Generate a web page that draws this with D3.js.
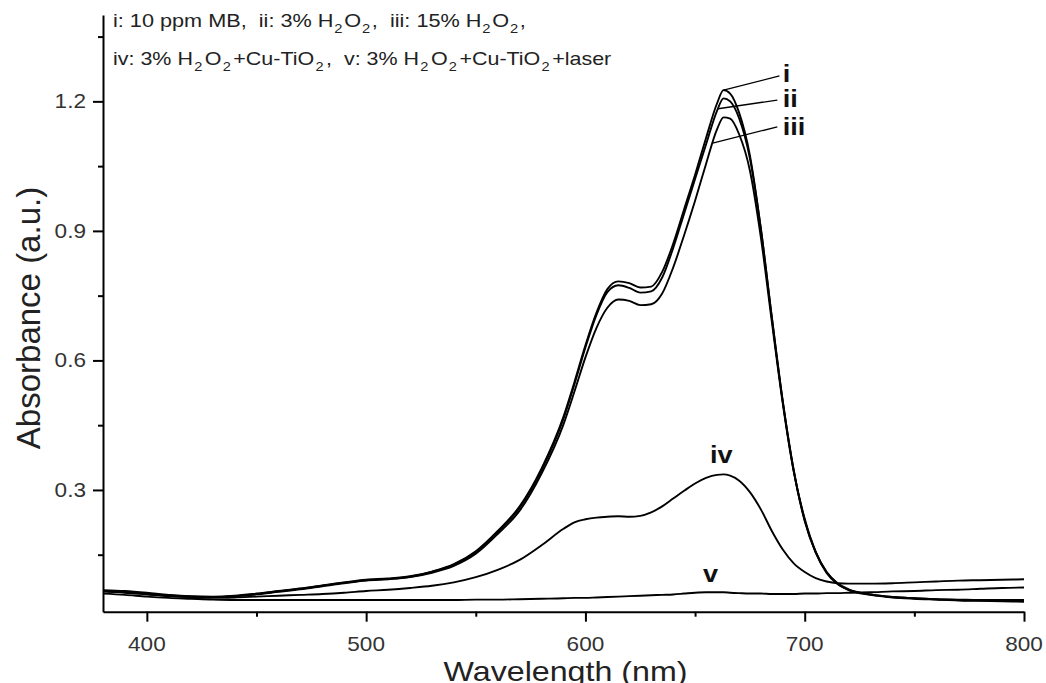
<!DOCTYPE html>
<html>
<head>
<meta charset="utf-8">
<script src="https://cdn.jsdelivr.net/npm/d3@7"></script>
<style>
  html, body { margin: 0; padding: 0; background: #fff; }
  svg { display: block; }
  text { font-family: "Liberation Sans", Arial, sans-serif; }
</style>
</head>
<body>
<svg id="chart" width="1046" height="683"></svg>
<script>
// UV-vis absorption spectra of methylene blue under different treatments
const wavelength = [380, 390, 400, 410, 420, 430, 440, 450, 460, 470, 480, 490, 500, 510, 520, 530, 540, 550, 560, 570,
  580, 590, 595, 600, 605, 610, 615, 620, 625, 630, 635, 640, 645, 650, 655, 660, 663, 666, 670, 675,
  680, 685, 690, 695, 700, 705, 710, 715, 720, 730, 740, 750, 760, 770, 780, 790, 800];

// i: 10 ppm MB
const absI = [0.068, 0.066, 0.062, 0.057, 0.054, 0.053, 0.055, 0.060, 0.066, 0.072, 0.079, 0.086, 0.092, 0.095, 0.100, 0.111, 0.128, 0.158, 0.205, 0.262,
  0.350, 0.470, 0.550, 0.635, 0.710, 0.765, 0.783, 0.779, 0.769, 0.771, 0.805, 0.870, 0.950, 1.030, 1.115, 1.195, 1.226, 1.218, 1.175, 1.075,
  0.905, 0.700, 0.505, 0.345, 0.228, 0.155, 0.108, 0.082, 0.068, 0.057, 0.051, 0.048, 0.046, 0.044, 0.043, 0.042, 0.041];
// ii: 3% H2O2
const absII = [0.066, 0.064, 0.060, 0.056, 0.053, 0.052, 0.054, 0.059, 0.065, 0.071, 0.078, 0.085, 0.091, 0.094, 0.099, 0.110, 0.127, 0.156, 0.203, 0.259,
  0.346, 0.465, 0.545, 0.630, 0.705, 0.758, 0.774, 0.768, 0.757, 0.760, 0.792, 0.860, 0.940, 1.020, 1.100, 1.178, 1.207, 1.200, 1.162, 1.068,
  0.905, 0.700, 0.505, 0.345, 0.230, 0.156, 0.109, 0.083, 0.069, 0.058, 0.052, 0.049, 0.047, 0.045, 0.044, 0.043, 0.043];
// iii: 15% H2O2
const absIII = [0.065, 0.063, 0.059, 0.055, 0.053, 0.052, 0.054, 0.058, 0.064, 0.070, 0.077, 0.084, 0.090, 0.093, 0.098, 0.108, 0.124, 0.152, 0.198, 0.252,
  0.338, 0.452, 0.528, 0.607, 0.675, 0.722, 0.741, 0.738, 0.728, 0.730, 0.755, 0.815, 0.890, 0.970, 1.055, 1.135, 1.163, 1.160, 1.125, 1.040,
  0.885, 0.690, 0.500, 0.342, 0.233, 0.157, 0.110, 0.084, 0.070, 0.058, 0.052, 0.049, 0.047, 0.046, 0.045, 0.045, 0.045];
// iv: 3% H2O2 + Cu-TiO2
const absIV = [0.065, 0.062, 0.058, 0.054, 0.051, 0.050, 0.051, 0.053, 0.055, 0.057, 0.059, 0.062, 0.066, 0.069, 0.073, 0.078, 0.086, 0.098, 0.115, 0.138,
  0.172, 0.210, 0.225, 0.232, 0.236, 0.238, 0.239, 0.238, 0.240, 0.248, 0.262, 0.280, 0.298, 0.315, 0.328, 0.335, 0.336, 0.333, 0.322, 0.295,
  0.255, 0.205, 0.162, 0.130, 0.110, 0.096, 0.088, 0.084, 0.083, 0.083, 0.084, 0.086, 0.088, 0.090, 0.091, 0.092, 0.093];
// v: 3% H2O2 + Cu-TiO2 + laser
const absV = [0.060, 0.057, 0.053, 0.050, 0.048, 0.046, 0.045, 0.045, 0.045, 0.045, 0.045, 0.045, 0.045, 0.045, 0.045, 0.045, 0.045, 0.046, 0.046, 0.047,
  0.048, 0.049, 0.050, 0.050, 0.051, 0.052, 0.053, 0.054, 0.055, 0.056, 0.057, 0.058, 0.060, 0.062, 0.063, 0.063, 0.063, 0.062, 0.061, 0.060,
  0.060, 0.059, 0.059, 0.059, 0.060, 0.060, 0.061, 0.061, 0.062, 0.063, 0.065, 0.066, 0.068, 0.069, 0.071, 0.073, 0.074];

const seriesNames = ["i", "ii", "iii", "iv", "v"];
const seriesValues = [absI, absII, absIII, absIV, absV];

const xMajorTicks = [400, 500, 600, 700, 800];
const xMinorTicks = [450, 550, 650, 750];
const yMajorTicks = [0.3, 0.6, 0.9, 1.2];
const yMinorTicks = [0.15, 0.45, 0.75, 1.05, 1.35];
const yTickLabels = ["0.3", "0.6", "0.9", "1.2"];

const xTitle = "Wavelength (nm)";
const yTitle = "Absorbance (a.u.)";

// Legend lines: [text, isSubscript]
const legendLine1 = [["i: 10 ppm MB,\u00a0 ii: 3% H", false], ["2", true], ["O", false], ["2", true],
  [",\u00a0 iii: 15% H", false], ["2", true], ["O", false], ["2", true], [",", false]];
const legendLine2 = [["iv: 3% H", false], ["2", true], ["O", false], ["2", true], ["+Cu-TiO", false], ["2", true],
  [",\u00a0 v: 3% H", false], ["2", true], ["O", false], ["2", true], ["+Cu-TiO", false], ["2", true], ["+laser", false]];

// Curve labels (wavelength, absorbance in data units)
const leaderStart = [663, 660.5, 658];          // point on curves i, ii, iii
const leaderEnd = [[688.5, 1.259], [687.5, 1.203], [687.5, 1.141]];
const leaderText = [[690, 1.245], [690, 1.186], [690, 1.122]];
const lowLabelPos = [[662, 0.3625], [657, 0.087]]; // iv, v

const svg = d3.select("#chart");
const stretch = 1.13;

const x = d3.scaleLinear().domain([380, 800]).range([103, 1024]);
const y = d3.scaleLinear().domain([0.018, 1.40]).range([611.7, 15]);

// Axes
const axisStyle = g => {
  g.selectAll("path, line").attr("stroke", "#000").attr("stroke-width", 2);
};
svg.append("g").attr("transform", `translate(0,${y(0.018)})`)
  .call(d3.axisBottom(x).tickValues(xMajorTicks).tickSize(10).tickSizeOuter(0).tickFormat(""))
  .call(axisStyle);
svg.append("g").attr("transform", `translate(0,${y(0.018)})`)
  .call(d3.axisBottom(x).tickValues(xMinorTicks).tickSize(5).tickSizeOuter(0).tickFormat(""))
  .call(g => g.select(".domain").remove())
  .call(axisStyle);
svg.append("g").attr("transform", `translate(${x(380)},0)`)
  .call(d3.axisLeft(y).tickValues(yMajorTicks).tickSize(10).tickSizeOuter(0).tickFormat(""))
  .call(axisStyle);
svg.append("g").attr("transform", `translate(${x(380)},0)`)
  .call(d3.axisLeft(y).tickValues(yMinorTicks).tickSize(5).tickSizeOuter(0).tickFormat(""))
  .call(g => g.select(".domain").remove())
  .call(axisStyle);

// Tick labels
svg.append("g").selectAll("text").data(xMajorTicks).join("text")
  .attr("transform", d => `translate(${x(d)},651) scale(${stretch},1)`)
  .attr("text-anchor", "middle")
  .attr("font-size", 20).attr("fill", "#333")
  .text(d => d);
svg.append("g").selectAll("text").data(yMajorTicks).join("text")
  .attr("transform", d => `translate(86,${y(d) + 7}) scale(${stretch},1)`)
  .attr("text-anchor", "end")
  .attr("font-size", 20).attr("fill", "#333")
  .text((d, i) => yTickLabels[i]);

// Axis titles
svg.append("text")
  .attr("transform", `translate(${(x(380) + x(800)) / 2 + 2},681) scale(${stretch},1)`)
  .attr("text-anchor", "middle").attr("font-size", 28.5).attr("fill", "#222")
  .text(xTitle);
svg.append("text")
  .attr("transform", `translate(40,318) rotate(-90)`)
  .attr("text-anchor", "middle").attr("font-size", 33).attr("fill", "#222")
  .text(yTitle);

// Spectra
const line = d3.line()
  .x(d => x(d[0]))
  .y(d => y(d[1]))
  .curve(d3.curveMonotoneX);
svg.append("g").selectAll("path").data(seriesValues).join("path")
  .attr("d", vals => line(wavelength.map((w, i) => [w, vals[i]])))
  .attr("fill", "none").attr("stroke", "#000").attr("stroke-width", 1.9)
  .attr("stroke-linejoin", "round");

// Legend: two lines of text with subscripts, each line drawn as a row of
// separately placed pieces so the spacing is explicit
function legend(parts, ty, size, gap) {
  const g = svg.append("g").attr("transform", `translate(113,${ty}) scale(${stretch},1)`);
  let cx = 0;
  parts.forEach(([s, isSub]) => {
    const t = g.append("text")
      .attr("x", cx)
      .attr("y", isSub ? 6 : 0)
      .attr("font-size", isSub ? size * 0.68 : size)
      .attr("fill", "#222")
      .style("white-space", "pre")
      .text(s);
    cx += t.node().getComputedTextLength() + (isSub ? gap : gap * 0.5);
  });
}
legend(legendLine1, 27, 19.2, 1.5);
legend(legendLine2, 65, 19, 2.2);

// Leader lines and labels for i, ii, iii
const interp = (vals, w) => {
  const i = d3.bisectLeft(wavelength, w);
  if (wavelength[i] === w) return vals[i];
  const t = (w - wavelength[i - 1]) / (wavelength[i] - wavelength[i - 1]);
  return vals[i - 1] + t * (vals[i] - vals[i - 1]);
};
[0, 1, 2].forEach(k => {
  const w0 = leaderStart[k];
  svg.append("line")
    .attr("x1", x(w0)).attr("y1", y(interp(seriesValues[k], w0)))
    .attr("x2", x(leaderEnd[k][0])).attr("y2", y(leaderEnd[k][1]))
    .attr("stroke", "#000").attr("stroke-width", 1.3);
  svg.append("text")
    .attr("transform", `translate(${x(leaderText[k][0])},${y(leaderText[k][1])}) scale(${stretch},1)`)
    .attr("font-size", 24).attr("font-weight", "bold").attr("fill", "#111")
    .text(seriesNames[k]);
});
[3, 4].forEach((k, j) => {
  svg.append("text")
    .attr("transform", `translate(${x(lowLabelPos[j][0])},${y(lowLabelPos[j][1])}) scale(${stretch},1)`)
    .attr("text-anchor", "middle")
    .attr("font-size", 24).attr("font-weight", "bold").attr("fill", "#111")
    .text(seriesNames[k]);
});
</script>
</body>
</html>
